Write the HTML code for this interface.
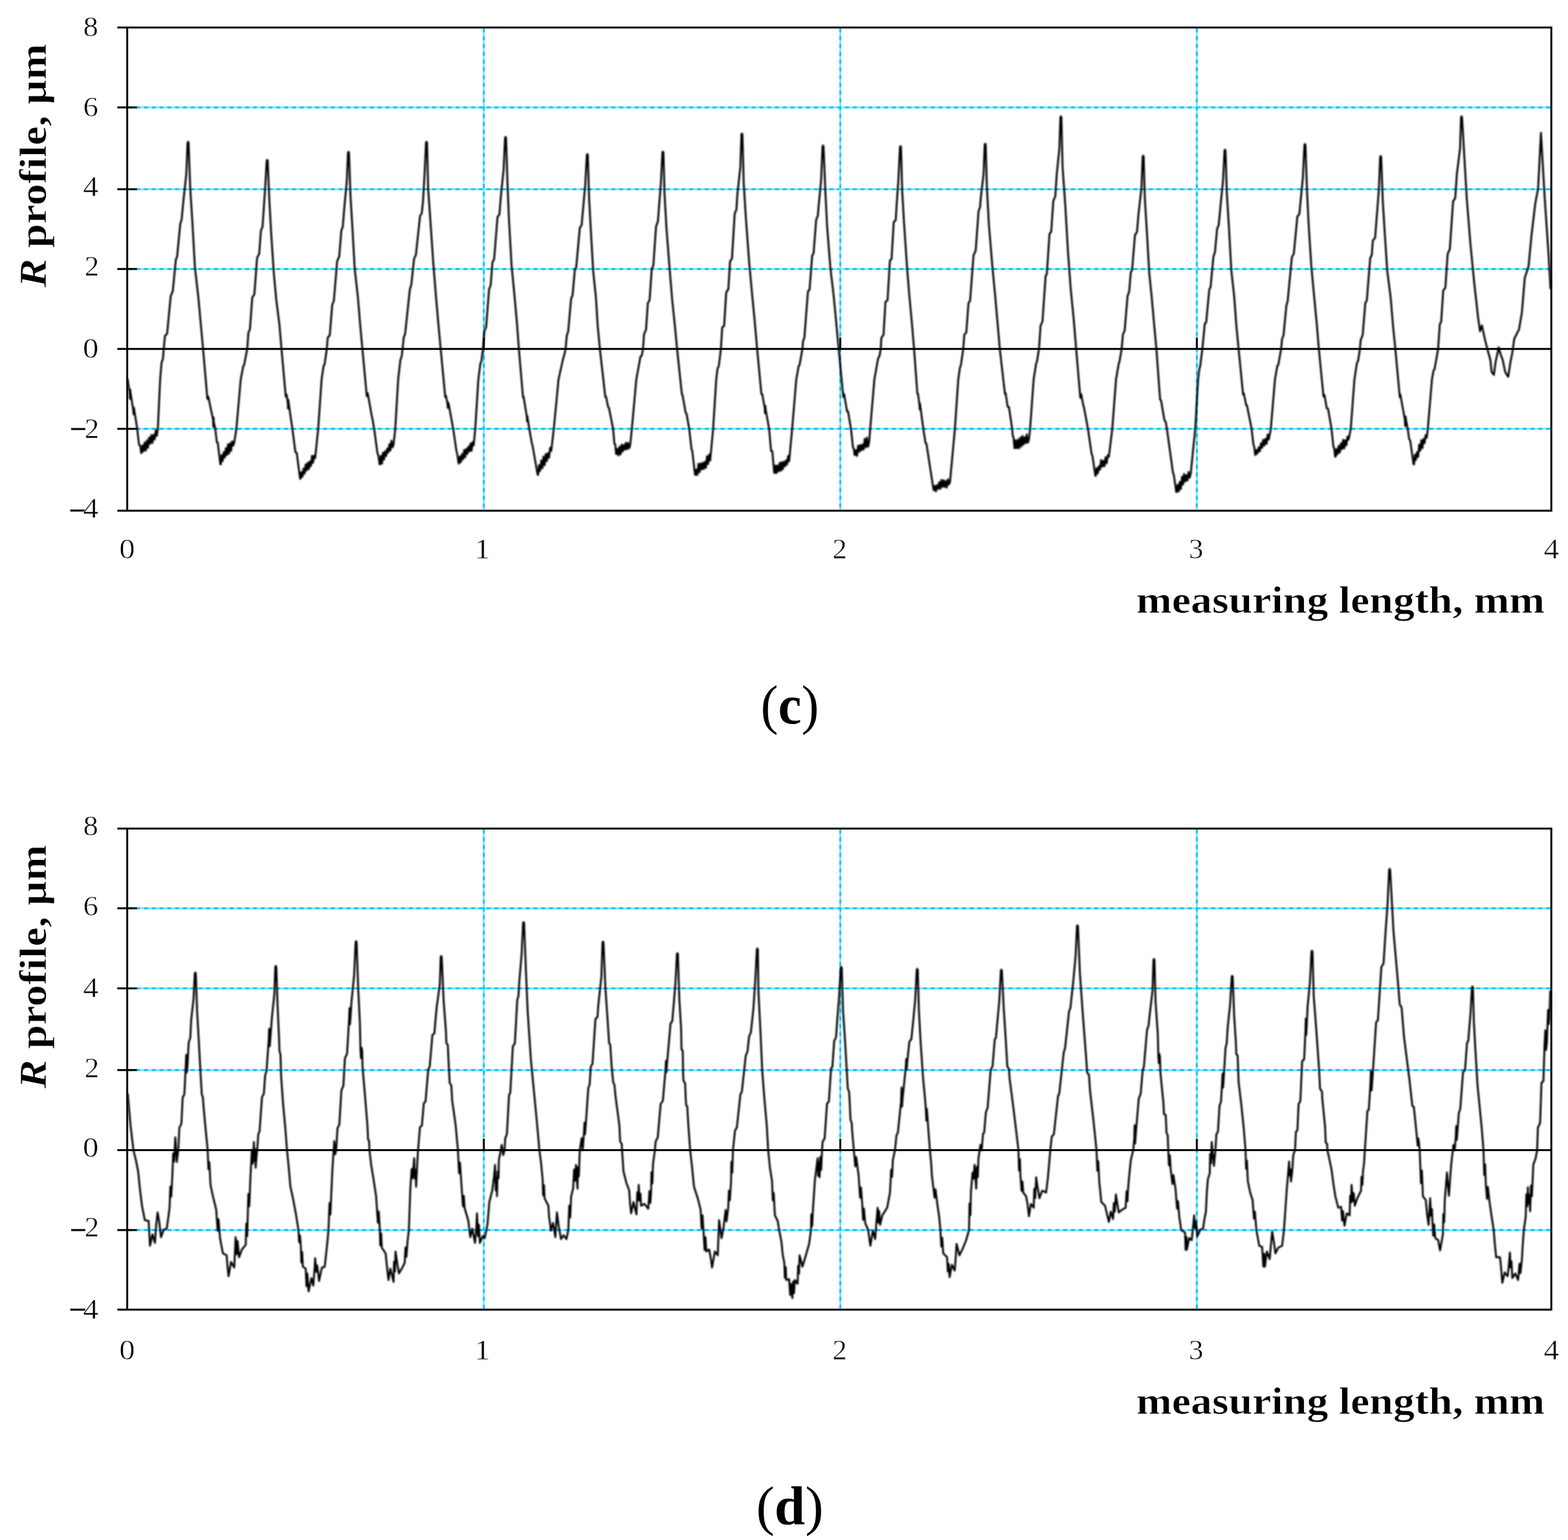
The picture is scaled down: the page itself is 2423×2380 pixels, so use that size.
<!DOCTYPE html>
<html lang="en"><head><meta charset="utf-8"><title>R profile charts (c) and (d)</title>
<style>html,body{margin:0;padding:0;background:#fff;width:2423px;height:2380px}svg{display:block}text{font-family:"Liberation Serif","DejaVu Serif",serif;fill:#000}.tk{font-size:45px;stroke:#fff;stroke-width:.6}.mn{stroke:#000;stroke-width:.9}.ax{font-size:58.5px;font-weight:bold;stroke:#fff;stroke-width:.7}.cap{font-size:85.5px}.fr{stroke:#000;stroke-width:3;fill:none}.gl{stroke:#86e3ff;stroke-width:3;fill:none}.gd{stroke:#00c6ff;stroke-width:3;stroke-dasharray:6.019 6.019;fill:none}.wv{stroke:#000;stroke-width:2.9;fill:none;stroke-linejoin:round;stroke-linecap:butt}</style></head><body>
<svg width="2423" height="2380" viewBox="0 0 2423 2380">
<defs><filter id="soft" x="-2%" y="-5%" width="104%" height="110%"><feGaussianBlur stdDeviation="0.8"/></filter></defs>
<rect width="2423" height="2380" fill="#fff"/>
<g id="chart-c">
<path class="gl" d="M210.6 166H2397.2"/>
<path class="gd" d="M198.4 166H2397.2"/>
<path class="gl" d="M210.6 292.4H2397.2"/>
<path class="gd" d="M198.4 292.4H2397.2"/>
<path class="gl" d="M210.6 415.7H2397.2"/>
<path class="gd" d="M198.4 415.7H2397.2"/>
<path class="gl" d="M210.6 662.7H2397.2"/>
<path class="gd" d="M198.4 662.7H2397.2"/>
<path class="gl" d="M747.6 42.4V789.2"/>
<path class="gd" d="M747.6 44V789.2"/>
<path class="gl" d="M1298.5 42.4V789.2"/>
<path class="gd" d="M1298.5 44V789.2"/>
<path class="gl" d="M1849.4 42.4V789.2"/>
<path class="gd" d="M1849.4 44V789.2"/>
<path class="wv" filter="url(#soft)" d="M197 585 200.3 606 200.8 616.4 201.2 602.2 201.8 607.5 205.8 632.9 206.4 640.2 207 630.3 207.7 635.3 212 662.7 214.8 687.1 216.8 689 218.1 700 218.9 700 220.2 688.3 221.9 697.4 223.6 683.8 225.3 696.3 227 680.7 228.7 692.1 230.4 676.1 232.2 685.7 233.9 672.1 235.6 684.6 237.3 672 239 679.1 240.7 665 242.4 673.5 243.9 662.7 247.5 586.2 249.7 559.9 251.7 555.4 253 539.3 254.9 519.1 258.2 515.8 263.8 457.7 267 449.9 271.7 401.4 273.7 396.7 278.6 345.7 280.6 339.9 283.5 309.6 287.9 268.8 289.8 220.6 290.3 219.1 290.9 219.1 291.4 220.6 294 291.7 297.4 345 301.2 413.4 306.4 458.5 310.4 502.2 313.8 539.3 320.5 616.6 321.8 612.9 329.3 648.8 329.7 659.6 330 645 330.4 652.2 332.6 662.7 335.1 683.6 336.5 684.2 340.5 717.6 341.3 717.6 342.5 703.1 344.1 712.6 345.8 698.8 347.4 707 349 692.8 350.6 703.2 352.3 686.8 353.9 701.2 355.5 684.9 357.1 696.8 358.8 681.9 360.4 688.6 362 683.8 365.3 662.7 372 586.2 375.9 566 377.2 564.2 382 539.3 383.9 513.9 386.2 509.1 389.8 459.8 393.1 454.7 397.3 398.4 400.5 392.5 403.2 356.4 405.6 350.8 407.3 327.2 409.7 291.1 412.1 248.6 412.6 247.1 413.2 247.1 413.7 248.6 416.3 311.5 418.9 358.1 423.2 422.9 427 464 431.8 501.6 435 539.3 441.6 613 442.9 609.8 444.6 621.4 445.1 631.4 445.6 617.9 446.3 624.4 451.8 662.7 456.5 698.8 458.5 699.8 463.7 739.7 464.5 739.7 465.7 729.6 467.4 736.9 469 724.3 470.6 732 472.3 717.6 473.9 727.3 475.6 714.9 477.2 725.1 478.8 713.3 480.5 720.3 482.1 704.4 483.7 715.4 485.4 704.3 487 708 491.7 662.7 497 586.2 500.1 565.3 501.5 563.5 505 539.3 506.4 522 509.6 518 513.4 470.9 515.9 465 521 403.6 524.2 396.3 527.5 355.8 529.6 351.1 532.4 317.4 535.9 280.2 537.7 236.2 538.2 234.7 538.8 234.7 539.3 236.2 541.6 302.6 544.6 352.6 548.2 416.2 553 458.7 556.6 502.2 560 539.3 566.8 612.4 568.3 607.7 574.7 644.2 575.7 648 578.2 662.7 583.3 700.5 584.8 704.3 586.6 717.6 587.4 717.6 588.6 704.4 590.3 716.6 591.9 699.4 593.5 710.2 595.2 697.2 596.8 704.8 598.4 693.2 600 699.4 601.7 686.5 603.3 696.2 604.9 681 606.6 691.3 608.2 686.8 610.8 662.7 615.3 586.2 618.8 555.7 620.7 551 622 539.3 624 520.8 626 516.3 633.3 447.5 635.6 439.8 639.9 399.6 642.7 393.9 649.1 333.8 651.7 329.8 653.6 312.2 656 270.3 658.3 220.6 658.8 219.1 659.4 219.1 659.9 220.6 661.6 291.3 665.4 345.8 669.7 408.3 673.7 458.2 677.3 499.5 681 539.3 688 613.6 689.1 611.4 691.5 624.3 692 630.3 692.6 621.9 693.3 624.3 700.3 662.7 705.4 697.3 706.5 701.2 708.7 716.2 709.5 716.2 710.7 705.3 712.4 714 714 701.8 715.6 709.8 717.3 695.4 718.9 706.8 720.5 693.6 722.2 701.5 723.8 690.2 725.5 697.7 727.1 685.2 728.7 696.9 730.4 683.2 732 688.2 734.4 662.7 739.2 586.2 742.4 561.4 743.8 558.9 746.3 539.3 748.6 510.9 751.1 506.4 755.8 446.9 758.2 440.8 761 405.2 763.6 400.5 768.8 335.1 771.7 331.6 774.1 302 778.3 261.4 780.4 213.3 780.9 211.8 781.5 211.8 782 213.3 784.3 285.6 786.5 339.3 790.5 410.2 795 456.5 799 501 801.8 539.3 808.2 614 809.1 612.7 814.2 645 814.5 651.1 814.8 642.7 815.2 645.6 817.9 662.7 821.7 684.3 822.8 687.9 830.8 733.8 831.6 733.8 832.9 718.9 834.6 727.9 836.4 711.8 838.1 723.7 839.8 705.7 841.5 719.1 843.2 701.8 844.9 712.9 846.6 700.3 848.4 707.6 850.1 691.9 851.8 697 855.8 662.7 863.1 586.2 870.2 554.3 871.5 550.3 874 539.3 875.8 518.8 878 512.3 882.6 461.2 884.7 456.9 888.3 416.9 890.5 412.7 896 352 898.8 347.7 901 323.1 904.4 284.9 906.8 239.7 907.3 238.2 907.9 238.2 908.4 239.7 910.3 306 913 355.7 916.7 419.7 920.8 458.9 923.7 504.7 927 539.3 935.4 613.5 936.6 613.3 939.8 629.3 941 630.4 947.4 662.7 949.4 685.7 950.7 686.6 952 701.5 952.8 701.5 954 693.7 955.7 703.8 957.3 690.4 959 702.2 960.6 687.1 962.3 697.7 963.9 687.7 965.6 694.8 967.2 684.1 968.9 694.6 970.5 684.5 972.2 692.8 973.8 688 976.4 662.7 983.3 586.2 989.7 551.1 991.7 549.5 993.6 539.3 995.2 516.5 998.3 509.4 1001.1 468.3 1003.8 463.9 1007.1 416.4 1009.6 410 1013.8 349.9 1016.7 342.1 1018 324.2 1021.2 283.8 1023.6 235.9 1024.1 234.4 1024.7 234.4 1025.2 235.9 1026.9 300 1030 354.5 1035.1 419.7 1038.6 462.2 1042.8 502.3 1046.3 539.3 1053.7 609.3 1054.6 609.9 1059.6 637.9 1060.9 639.3 1065 662.7 1068.7 695.1 1069.7 696.4 1074 733.8 1074.8 733.8 1076 725.7 1077.7 734 1079.3 716.7 1081 729.8 1082.6 716.3 1084.3 725.5 1085.9 715.2 1087.5 724.9 1089.2 713.6 1090.8 723.1 1092.5 705.3 1094.1 717.2 1095.8 702.5 1097.4 711.8 1102 662.7 1106.8 586.2 1108.8 569.7 1110.8 565.6 1114 539.3 1116 506.2 1119 503.6 1122.2 451.9 1125.5 446.9 1128.2 403.7 1131.1 399.6 1135.3 330.1 1138 323.8 1139.4 300.8 1144 258.3 1145.7 208 1146.2 206.5 1146.8 206.5 1147.3 208 1149.2 282.3 1152.5 335.3 1157.8 406.8 1162.1 453.7 1166.4 498.2 1170 539.3 1176.6 609.1 1177.9 609.1 1181.7 630.4 1182.2 638.8 1182.7 627.5 1183.3 633.4 1188.5 662.7 1191.5 696.9 1193.4 697.1 1196.4 730.9 1197.2 730.9 1198.4 719.4 1200 731 1201.6 719.4 1203.3 728.4 1204.9 715.3 1206.5 727.5 1208.1 714.1 1209.7 725.4 1211.3 713.5 1212.9 720.8 1214.6 711.4 1216.2 718 1217.8 704.6 1219.4 713 1224.1 662.7 1230.5 586.2 1234.2 565.7 1235.5 564 1240 539.3 1240.9 527.3 1243 521.9 1248.5 450.5 1251 447.3 1255.1 394.9 1257.2 391.4 1261.2 339.8 1263.8 333.2 1264.8 320.8 1268.9 277.7 1271 226.5 1271.5 225 1272.1 225 1272.6 226.5 1275.4 295.3 1278.1 349.7 1283.2 414.2 1288 454.6 1292.6 502.6 1296 539.3 1303.2 613.6 1304.4 609.1 1308.9 635.8 1310.5 636 1315 662.7 1318.1 691.5 1319.5 693.8 1320.5 703 1321.3 703 1322.6 695.6 1324.3 704.5 1326 688.8 1327.7 698.2 1329.4 687.6 1331.1 696.1 1332.8 686.9 1334.5 694.8 1336.2 678.3 1337.9 691.4 1339.6 676.3 1341.3 690.5 1343 684 1344.7 662.7 1351.2 586.2 1356.9 554.1 1359 550.6 1361 539.3 1362 522.1 1365.3 517.2 1368.3 466.7 1371.5 464 1375.2 402.6 1377.7 400.3 1381.1 342.8 1384.1 340.3 1385.3 320.3 1388.3 277.8 1390.7 227.4 1391.2 225.9 1391.8 225.9 1392.3 227.4 1394.2 296.4 1397.1 346.2 1401.8 415.3 1405.2 457 1409.4 502.3 1412.5 539.3 1417.6 608.4 1418.6 608.7 1420.9 625.9 1421.3 632.8 1421.6 623.4 1422.1 627.7 1426.8 662.7 1430.2 684.8 1431.6 685.5 1442.6 757.4 1443.4 757.4 1444.7 750.8 1446.3 759.4 1448 749.6 1449.7 755.6 1451.3 745.1 1453 755.6 1454.7 741.7 1456.3 752.5 1458 742.3 1459.7 752.5 1461.3 743.5 1463 753.5 1464.7 740.8 1466.3 748.5 1468 745 1475.6 662.7 1480.8 586.2 1483.4 568.2 1484.8 564.7 1488.5 539.3 1490.1 517.4 1493.2 513.9 1496.6 468.3 1499.1 464.7 1504.4 394.3 1507.7 387.4 1512.2 326 1514.5 320.2 1515.4 307.5 1519.9 269.1 1521.6 223.6 1522.1 222.1 1522.7 222.1 1523.2 223.6 1525 289.1 1528.1 346.7 1533.4 410.6 1537.8 456.7 1541.9 503.7 1545 539.3 1552.9 608.7 1554 607.6 1557.1 628.6 1559.1 629 1564.1 662.7 1565.1 674.2 1566.2 675.8 1567.6 692.6 1568.4 692.6 1569.7 680.4 1571.4 692.7 1573.1 679.2 1574.8 692.8 1576.5 676.4 1578.2 690 1579.8 673.8 1581.5 687.3 1583.2 675.6 1584.9 684.9 1586.6 671.2 1588.3 684.3 1590 679 1591.8 662.7 1597.3 586.2 1601.1 562.1 1602.5 558.3 1605.5 539.3 1608 503.1 1610.9 497 1615.8 426.3 1617.6 423.7 1621.8 361.5 1624.4 358.1 1627.7 310.4 1630.7 303.3 1632.9 270.3 1637 229.7 1638.6 181.5 1639.1 180 1639.7 180 1640.2 181.5 1642 258.4 1646.2 317.8 1650.6 393.2 1654.6 446.8 1659.2 493.5 1663 539.3 1669.4 614.8 1670.7 608.9 1673.9 626 1675.1 629.9 1681.2 662.7 1686.8 701.5 1688.2 704.6 1692.6 735.3 1693.4 735.3 1694.7 723.5 1696.4 731.5 1698.1 720.4 1699.8 725.9 1701.5 711 1703.2 721.3 1705 712.1 1706.7 720.6 1708.4 706.6 1710.1 716.1 1711.8 703.4 1713.5 706 1718.8 662.7 1724.6 586.2 1728.7 562.2 1730.1 557.8 1733.3 539.3 1735.2 516.8 1737.9 511.2 1742.4 457.4 1744.9 450.5 1747.4 420.7 1749.4 417.5 1753.8 363.6 1757 358.3 1759.3 330.8 1763.9 290.2 1765.7 242.1 1766.2 240.6 1766.8 240.6 1767.3 242.1 1769.1 307.2 1772.1 355.4 1776 422.8 1779.9 461.2 1783.5 501.8 1787 539.3 1792.7 617.6 1794.1 618.6 1799.4 649.5 1801.4 651.9 1803.2 662.7 1812.6 730.8 1814 734.6 1817.6 760.3 1818.4 760.3 1819.7 749.3 1821.4 759.6 1823.1 744.7 1824.8 755.9 1826.5 736.7 1828.2 748.7 1829.8 732.5 1831.5 744.3 1833.2 734.5 1834.9 742.8 1836.6 729.5 1838.3 738.3 1840 732 1847 662.7 1851.4 586.2 1853.4 570.1 1854.6 566.1 1858 539.3 1861.7 500.5 1863.9 498 1868.7 447.3 1870.6 444.3 1875.1 396.6 1877.4 390.1 1880.8 353.7 1883.3 347.5 1886 318.5 1889.9 279.4 1892.2 233 1892.7 231.5 1893.3 231.5 1893.8 233 1895.8 298.4 1899 350.3 1902.8 418.5 1907.2 458.1 1910.6 504.2 1914 539.3 1920.9 609.7 1922.1 608 1925.7 626.2 1926.9 626.4 1934.1 662.7 1936.8 686.7 1938.2 690.6 1939.6 703 1940.4 703 1941.7 695.5 1943.4 700.5 1945.2 691.1 1946.9 697.4 1948.6 684.9 1950.3 692.1 1952 679.8 1953.7 688.7 1955.4 678.1 1957.2 686 1958.9 671.4 1960.6 679.4 1963.8 662.7 1970.2 586.2 1973.9 565.1 1975.3 564 1979.7 539.3 1981.2 523.5 1983.4 518.4 1987.8 472.4 1989.8 465.4 1996.3 397.4 1999.3 392.1 2004.8 334.7 2007.8 331 2009.2 317 2013.3 274.5 2015.7 224.1 2016.2 222.6 2016.8 222.6 2017.3 224.1 2019.6 292.9 2022.2 346.2 2026.3 410.7 2030.9 459.9 2034.8 500.7 2038 539.3 2045.2 612.9 2046.7 610.5 2050.2 631 2052.2 631.6 2057.6 662.7 2060.4 689.9 2061.8 693.3 2063.1 705.9 2063.9 705.9 2065.2 694 2066.9 702.1 2068.6 689.1 2070.3 699.6 2072 685.3 2073.8 694.3 2075.5 679.7 2077.2 693 2078.9 680.1 2080.6 688.2 2082.3 674.6 2084 679.4 2087.3 662.7 2093 586.2 2096.7 561.8 2098.8 556.9 2101.5 539.3 2102.6 525.6 2105.7 518 2109.8 468.3 2112.1 464.4 2117.4 398.8 2119.7 394.5 2121.5 371.4 2124.9 367.7 2127.6 333.5 2130.8 291.9 2132.7 242.7 2133.2 241.2 2133.8 241.2 2134.3 242.7 2136.7 308.8 2139.8 359.4 2143.7 418.8 2148.9 459.2 2152.6 503.4 2156.2 539.3 2163.1 613.8 2163.9 609.7 2170.8 647.8 2171.4 658.7 2172 643.6 2172.7 648.4 2175.3 662.7 2177.5 678.4 2179.2 681 2184.3 717.6 2185.1 717.6 2186.4 702.7 2188 710.9 2189.7 698.7 2191.4 706.4 2193 687.1 2194.7 696.6 2196.4 680.2 2198 692.5 2199.7 678.3 2201.4 684.9 2203 672.5 2204.7 676.5 2206.4 662.7 2212.8 586.2 2215.2 572.5 2216.7 571 2222.3 539.3 2224.9 501 2227 497.6 2230.2 448.9 2233.5 444.7 2237 392.6 2240.4 384.9 2245.4 311.3 2248.7 306.4 2251.2 269.8 2256.2 229.4 2257.7 181.5 2258.2 180 2258.8 180 2259.3 181.5 2266.5 306 2272.4 379 2278.2 438 2284.1 491 2287 512 2290 503 2294.4 523.5 2298.8 541 2303 556 2305 575 2308.5 579.4 2311 560 2315.9 536.8 2319 548 2322 556 2326 575 2330.6 582.4 2334 560 2337 545 2340 523.5 2347.4 508.8 2351.8 482.4 2356.2 429.4 2362 411.8 2366.5 364.7 2372.4 314.7 2376.8 291.2 2381.2 205.3 2387 306 2393 394 2396 447"/>
<path class="fr" d="M181.3 42.4H2398.7 M181.3 789.2H2398.7 M196.6 42.4V789.2 M2397.2 42.4V789.2 M181.3 539.3H2397.2 M181.3 166H211.6 M181.3 292.4H211.6 M181.3 415.7H211.6 M181.3 662.7H211.6 M747.6 521.8V539.3 M1298.5 521.8V539.3 M1849.4 521.8V539.3"/>
<text class="tk" transform="translate(152 55.9) scale(1.04 1)" text-anchor="end">8</text>
<text class="tk" transform="translate(152 179.6) scale(1.04 1)" text-anchor="end">6</text>
<text class="tk" transform="translate(152 302.9) scale(1.06 1)" text-anchor="end">4</text>
<text class="tk" transform="translate(153.2 426.4) scale(1.0 1)" text-anchor="end">2</text>
<text class="tk" transform="translate(152.4 552.7) scale(1.08 1)" text-anchor="end">0</text>
<text class="tk" transform="translate(153.2 676.5) scale(1.0 1)" text-anchor="end"><tspan class="mn" x="-19.6" y="1.2">−</tspan><tspan x="0" y="0">2</tspan></text>
<text class="tk" transform="translate(152 799.7) scale(1.06 1)" text-anchor="end"><tspan class="mn" x="-17.4" y="4.5">−</tspan><tspan x="0" y="0">4</tspan></text>
<text class="tk" transform="translate(196.5 862.9) scale(1.08 1)" text-anchor="middle">0</text>
<text class="tk" transform="translate(745.4 862.9) scale(1.1 1)" text-anchor="middle">1</text>
<text class="tk" transform="translate(1297.5 862.9) scale(1.0 1)" text-anchor="middle">2</text>
<text class="tk" transform="translate(1848.2 862.9) scale(1.0 1)" text-anchor="middle">3</text>
<text class="tk" transform="translate(2397.5 862.9) scale(1.06 1)" text-anchor="middle">4</text>
<text class="ax" transform="translate(1756 947.4) scale(1.126 1)">measuring length, mm</text>
<text class="ax" transform="translate(71.4 444.2) rotate(-90) scale(1.141 1)"><tspan font-style="italic">R</tspan> profile, µm</text>
<text class="cap" transform="translate(1220.5 1118.4) scale(0.947 1)" text-anchor="middle">(<tspan font-weight="bold">c</tspan>)</text>
</g>
<g id="chart-d">
<path class="gl" d="M210.6 1403.8H2397.2"/>
<path class="gd" d="M198.4 1403.8H2397.2"/>
<path class="gl" d="M210.6 1527.4H2397.2"/>
<path class="gd" d="M198.4 1527.4H2397.2"/>
<path class="gl" d="M210.6 1653.8H2397.2"/>
<path class="gd" d="M198.4 1653.8H2397.2"/>
<path class="gl" d="M210.6 1900.9H2397.2"/>
<path class="gd" d="M198.4 1900.9H2397.2"/>
<path class="gl" d="M747.6 1280.4V2024.1"/>
<path class="gd" d="M747.6 1282V2024.1"/>
<path class="gl" d="M1298.5 1280.4V2024.1"/>
<path class="gd" d="M1298.5 1282V2024.1"/>
<path class="gl" d="M1849.4 1280.4V2024.1"/>
<path class="gd" d="M1849.4 1282V2024.1"/>
<path class="wv" filter="url(#soft)" d="M197.4 1690 201.8 1740 206.2 1777.4 210.1 1793.5 213.5 1810.6 216.2 1837.2 219.4 1863.5 223.8 1885.6 229.7 1887 231.8 1925.3 235.6 1907.6 239.4 1920.9 241.2 1894.9 243.5 1873.8 245.9 1887 248.8 1912 253.2 1900.3 257.6 1898.8 260.3 1880.2 262 1866.5 263.2 1833.9 264.6 1849.4 266.5 1813.5 267.6 1782.8 269 1795.1 270.9 1757.6 273.2 1795.9 275.5 1777.4 277.2 1742.7 280.3 1736.8 282.3 1696.1 284.9 1691.3 286.9 1650.1 287.8 1630.3 288.7 1657.3 289.8 1646.4 291.5 1611.6 294.1 1603.6 295.4 1576.7 299.1 1543.6 301 1504.7 301.5 1503.2 302.1 1503.2 302.6 1504.7 304.6 1562.8 307.4 1612.2 310.3 1666 311.9 1692.1 313.5 1695.3 314.4 1709 317.6 1743.5 320.9 1777.4 322.1 1806.9 323.5 1796.2 325.3 1831.2 328.7 1847.3 334.1 1869.4 336.3 1902.1 337.7 1884.3 340 1913.5 344.4 1937 350.3 1940 351.2 1953.3 353.2 1972.4 357 1950.3 362 1959 364.1 1912 365.7 1938.5 367.1 1918 369.4 1943 373.8 1931.2 379.7 1923.8 380.6 1891 382 1910.5 382.6 1887 383.8 1845.1 385.2 1864.3 387 1819.4 389.2 1777.7 390.6 1798.4 392.4 1765 392.9 1794 394.3 1775.7 395 1804.7 397.4 1777.4 399.2 1752.7 401.1 1748.4 404.9 1695.3 407.7 1690.6 409.7 1662.4 411.9 1654.7 415.1 1609.7 415.9 1589.9 416.8 1616.8 417.8 1604.8 420.1 1573.1 423.9 1537 425.4 1494.4 425.9 1492.9 426.5 1492.9 427 1494.4 428.9 1553.7 431.3 1606.1 431.9 1624.6 433.4 1629.4 434.4 1663.1 437.4 1705.4 440.7 1741.3 443.5 1777.4 446.1 1803.4 448.8 1834.1 452.6 1851.3 457.6 1878.2 461.2 1900.9 462.2 1919.7 463.6 1909.4 465 1928.2 465.6 1951 467 1935 468 1957.6 472.4 1960.6 473.6 1987.9 475 1968.3 476.8 1995.9 481.2 1975.3 484.1 1987 486 1962.1 487 1944.4 488.9 1965.6 490.3 1955.8 493 1979.7 497.4 1959.1 501.8 1957.6 504.7 1930.8 506.2 1916.5 507.6 1900.9 509.2 1859.3 510.6 1877 512 1843 513.7 1806.4 516.5 1763.5 518 1784 519.5 1777.4 521.5 1743.9 524.4 1737.8 527.5 1685.3 530.6 1677.9 533 1635.6 536.3 1628.4 539.4 1576.4 540.1 1558 540.8 1583 541.7 1571.9 543 1550.2 547.2 1507.2 549.5 1456.2 550 1454.7 550.6 1454.7 551.1 1456.2 553.5 1528 556.1 1579.9 557.1 1623.7 557.9 1635.4 558.7 1619.3 559.7 1624.2 560.2 1648.8 563.9 1691.9 567.8 1739.4 568.8 1761.3 570.3 1762.8 570.9 1777.4 573.8 1801.8 577.1 1821.8 581.2 1848.8 583.9 1889.6 585.3 1872.5 587 1900.9 587.6 1924.5 589 1905.9 590 1928.2 595.9 1937 598.4 1961.5 600.3 1978.2 603.2 1960.6 608.2 1981.2 608.9 1949.9 610.3 1965.1 611.2 1934.1 614.4 1956 616.5 1968 620.9 1960.6 625.3 1951.8 626.6 1927.9 628 1942.5 629.7 1919.4 631.8 1900.9 634.1 1837 636.1 1806.7 637.5 1821 640 1790 640.9 1821.4 642.3 1808.2 643 1834.1 644.7 1799.4 646 1777.4 649 1741.9 651.9 1739.8 654.9 1705.1 657.6 1702.3 661.7 1653.2 664 1648.4 668.2 1599.3 671.2 1597.1 674.6 1558 679.6 1521.8 681 1479.1 681.5 1477.6 682.1 1477.6 682.6 1479.1 685.5 1546.3 689 1592.7 689.8 1611.7 692 1615.3 693.9 1655.6 694.9 1673.7 697.4 1677.5 698.7 1700.6 704.1 1738.9 707.6 1777.4 709.4 1813.2 710.8 1796.6 713.5 1837 715.4 1864.2 716.8 1848.2 717.9 1866.5 723.8 1887 725.3 1900.9 726.8 1912 729.7 1898.8 734.1 1920.9 736.2 1894.4 737.1 1875.3 738.7 1910.5 740.1 1892.8 741.5 1920.9 745.9 1910.6 749 1913.5 753.2 1893 755.1 1871.3 756.2 1857.6 760.6 1840 763.5 1817.2 765 1800.3 766 1839.7 767.4 1819.9 768 1848.8 769 1810.4 770.4 1820.9 770.9 1793 775.3 1769.4 777.5 1785 779.7 1777.4 780.7 1759.4 783.3 1752.7 786.6 1692.3 788.5 1689.2 792.5 1616.8 795.6 1612.7 799.3 1545.7 801.2 1539 802.5 1516.4 806 1475.4 808.3 1426.8 808.8 1425.3 809.4 1425.3 809.9 1426.8 812.7 1500.3 815.4 1562.8 820.4 1637.9 825.2 1687.9 829.7 1734.4 833.5 1777.4 836.1 1797.4 838.5 1822.4 839.3 1847.3 840.7 1831.7 841.5 1851.8 847.4 1863.5 848.5 1881.1 850.3 1893 851.2 1901.8 854.7 1890 858.2 1912 860.6 1873.8 863.5 1895.9 867 1915 870.9 1909 875.3 1915 878.2 1900.9 879.7 1863.1 881.1 1881.6 882.6 1848.8 885.6 1837 887.2 1807.4 888.6 1824.7 890 1800.3 892.4 1837 893.1 1803.7 894.5 1818 895.9 1778 898.8 1759 900.5 1777.4 902.5 1748.5 903.2 1734.9 904 1753 905 1741.1 909.1 1681.3 911.1 1676.5 913 1648.2 915.5 1644.3 920.2 1574.7 923.3 1571.6 924.5 1554 929.3 1509.6 931 1456.8 931.5 1455.3 932.1 1455.3 932.6 1456.8 935.5 1526.9 939.3 1582.3 941.2 1611.9 943 1614.5 945.2 1648.6 947.6 1672.9 949.4 1676.1 951.1 1693.8 957.1 1739.4 958.3 1764 960.8 1768.1 961.2 1777.4 963.5 1810.6 968 1828.2 972.4 1840 973.5 1859.3 975.3 1875.3 978.8 1857.6 983.5 1876.8 984.8 1842.8 986.2 1855.1 987 1831.2 988.3 1855.5 989.7 1844.8 990.6 1863.5 995.9 1860.6 1001.8 1868 1003.6 1840.6 1005 1859.1 1006.2 1840 1006.7 1811.7 1008.1 1829 1009.1 1798.8 1012 1777.4 1013.1 1764.3 1016.4 1757.7 1020.9 1706.2 1024.3 1701.2 1028.5 1652.7 1029.1 1639.5 1029.8 1657.1 1030.5 1646.6 1036.2 1581.5 1038.8 1578.4 1040.9 1554.6 1043.8 1518 1046 1474.7 1046.5 1473.2 1047.1 1473.2 1047.6 1474.7 1049.7 1543.1 1052.5 1589.4 1053.1 1621.9 1055 1623.5 1055.6 1658.4 1056.1 1670.1 1058.7 1674.3 1059.7 1698.9 1060.3 1707.8 1062 1710.4 1063.8 1740.3 1066.5 1777.4 1069.8 1807.4 1072.4 1834 1078.2 1851.8 1082.6 1869.4 1084.2 1898.7 1085.6 1878.1 1087 1900.9 1088.8 1931.8 1090.2 1912 1091.5 1934 1095.9 1931 1098.6 1945.9 1100.3 1959.1 1104.7 1934 1109.1 1940 1111.2 1885.6 1113.6 1903.4 1115 1913.5 1117.9 1898.8 1121.3 1869.9 1122.7 1887.6 1125.3 1866.5 1126.4 1840.2 1127.8 1855 1129.7 1825.3 1130.2 1795.6 1131.6 1812.3 1132.6 1777.4 1135.8 1747.4 1138.7 1742.2 1144.1 1691.5 1146.4 1687.2 1152.3 1632.2 1155.2 1624.2 1157.6 1601.5 1160.3 1595.6 1164.3 1558 1167 1516.6 1169.5 1467.4 1170 1465.9 1170.6 1465.9 1171.1 1467.4 1172 1532.6 1174.7 1585 1177.9 1655.2 1181.3 1699.2 1185 1740.8 1187 1777.4 1189.8 1804.9 1193 1825.3 1194.2 1855.3 1195.6 1843.8 1197.4 1878.2 1201.8 1887 1204 1900.9 1207.6 1919.4 1209.4 1938.2 1212 1951.8 1212.8 1974.8 1214.2 1958.5 1215 1978.2 1219.4 1976.8 1221.1 2001.3 1222.5 1984.4 1224.4 2006.2 1225.6 1980.8 1227 1998.5 1228.2 1978.2 1232.6 1984 1233.3 1956.1 1234.7 1968.4 1235.6 1940 1240 1957.6 1244.4 1943 1250.3 1922.4 1253.2 1900.9 1253.7 1876.7 1255.1 1894.8 1256.2 1869.4 1257.8 1845.6 1259.1 1825.3 1261.4 1806.6 1263.5 1790 1264.3 1817.1 1265.7 1796.6 1266.5 1819.4 1267.5 1788 1268.9 1808.1 1270.3 1777.4 1271.2 1764.2 1274.3 1759.4 1278 1705.7 1280.8 1702.4 1284.3 1651 1286.3 1648.7 1289.1 1608.5 1291.9 1603.4 1293.6 1579.4 1296.6 1541.1 1299.2 1495.9 1299.7 1494.4 1300.3 1494.4 1300.8 1495.9 1302.6 1559.6 1305.7 1606.2 1308.9 1661.9 1310.1 1682.9 1312 1686.4 1313.1 1704.6 1314.3 1730.6 1316.2 1735.5 1316.6 1745 1319.4 1777.4 1321.7 1802.5 1323.1 1788.1 1326.8 1816.5 1329.1 1851 1330.5 1835.3 1332.6 1863.5 1333.7 1885.2 1335.1 1868 1337 1890 1341.5 1900.9 1345 1925.3 1348.8 1901.8 1352.4 1915 1354.2 1890.1 1356.2 1866.5 1357.2 1889.4 1358.6 1871.5 1360 1893 1363.5 1878.2 1370.9 1866.5 1375.3 1843 1377.1 1807.8 1378.5 1818.7 1379.7 1793 1383 1777.4 1385.3 1754.6 1387.5 1750.4 1392.4 1702.4 1393.1 1680.6 1393.9 1710.2 1394.9 1696.5 1399.7 1649.1 1400.4 1636.7 1401.1 1653 1402 1641.2 1405.2 1609.9 1408.3 1606 1410.7 1582.6 1414.3 1544.3 1416.6 1498.9 1417.1 1497.4 1417.7 1497.4 1418.2 1498.9 1419.9 1560.1 1422.5 1608.3 1426.2 1663.7 1429.9 1703.4 1430.9 1718.5 1431.5 1731.9 1432.2 1713.7 1432.9 1722.1 1434.3 1742.5 1437 1777.4 1439.1 1799.9 1440 1816.5 1444.2 1851.1 1445.6 1837.9 1448.8 1863.5 1451.2 1879.9 1453.2 1900.9 1454.6 1926.5 1456 1912.8 1457.6 1937 1463.5 1943 1464.7 1965.1 1466.1 1953.3 1467.4 1973.8 1470.9 1954.7 1475.3 1963.5 1476.8 1944.4 1478.2 1922.4 1482.6 1940 1487 1931.2 1493 1916.5 1497.4 1900.9 1498.2 1859.9 1499.6 1878 1500.3 1843 1502.9 1812.1 1504.3 1821.9 1506 1800 1508.5 1837 1509.6 1803.4 1511 1819.3 1512 1790 1515 1769.4 1517 1777.4 1519 1752.5 1520.9 1750 1523.5 1718.7 1526.1 1712.3 1530.8 1654.4 1533.9 1647 1537.2 1606.1 1539.1 1603.6 1540.6 1585.6 1544.2 1546.6 1546.6 1500.3 1547.1 1498.8 1547.7 1498.8 1548.2 1500.3 1551.1 1559.5 1554.4 1610.3 1556.6 1648.4 1559.2 1652 1560 1665.9 1565.2 1706 1570.1 1746 1573.8 1777.4 1574.7 1809 1576.1 1791.5 1576.8 1816.5 1578.6 1840.3 1580 1826 1581.2 1843 1585.6 1848.8 1587.9 1861.3 1590 1879.7 1593 1860.6 1597.4 1866.5 1598.3 1837.1 1599.7 1851.5 1601.2 1819.4 1603.1 1833.1 1606.2 1851.8 1610.6 1840 1616.5 1843 1619.4 1819.4 1621.1 1799.7 1623 1777.4 1625.3 1756.4 1628.5 1753.1 1635 1693.7 1636.8 1690.3 1643.8 1626.3 1645.8 1620 1652 1562.9 1654.1 1557.4 1658.6 1515.9 1662.1 1477.4 1664.2 1431.8 1664.7 1430.3 1665.3 1430.3 1665.8 1431.8 1668.8 1505.2 1673.3 1568.2 1678.7 1638.8 1679.9 1657.4 1682.8 1661.4 1684.4 1685.5 1690 1734.4 1694.4 1777.4 1695.7 1809.4 1697.1 1794.5 1698.8 1828.2 1700.4 1842.8 1701.8 1857.6 1707.6 1863.5 1713.5 1888.5 1716.5 1872.4 1720 1884.1 1721.2 1859.4 1722.6 1872.6 1724.4 1845.9 1726.4 1859.3 1728.8 1873.8 1734.1 1869.4 1739.4 1866.5 1740.9 1840.9 1742.3 1856.5 1743 1840 1744.5 1821.7 1747.4 1793 1751.2 1777.4 1752.7 1759.9 1753.3 1739 1754.1 1767.4 1754.9 1755.1 1759.7 1697.9 1762.7 1690.2 1765.7 1654.6 1767.6 1649.1 1772.5 1591.6 1775 1584.5 1776.1 1572.5 1780.9 1531.8 1782.4 1483.6 1782.9 1482.1 1783.5 1482.1 1784 1483.6 1785.7 1549.1 1789 1596.1 1790 1632.5 1790.7 1643.1 1791.5 1628.6 1792.5 1634.3 1793.2 1658.1 1797.7 1703.4 1798.7 1721.9 1801.3 1723.1 1802.1 1739 1802.5 1750.6 1804.5 1754.6 1805.3 1777.4 1806.3 1801 1807.7 1785.4 1809.1 1807.6 1811.8 1829.9 1813.2 1815.9 1816.5 1837 1818.9 1868 1820.3 1856.1 1822.4 1881.2 1825.3 1900.9 1831.2 1904.7 1832.1 1931.8 1833.5 1911.6 1834.1 1931.2 1837.6 1913.5 1841.5 1916.5 1843.3 1898.8 1845.3 1878.2 1846.7 1898.4 1848.1 1887.8 1850.3 1910.6 1854.7 1900.3 1859.1 1898.8 1861.2 1884.1 1863.5 1872.4 1864.9 1842.4 1866.5 1822.4 1869.4 1813.5 1870 1783.7 1871.4 1797.9 1872.4 1765 1873.8 1780.3 1875.9 1801.8 1878.2 1777.4 1879.6 1753.2 1882.1 1748.8 1884.5 1709 1886.8 1702.8 1888.4 1675.3 1889.2 1659.2 1890 1680.7 1890.9 1667.4 1893.8 1619.2 1895.6 1612.5 1897.1 1588.1 1900.9 1552.1 1903.3 1509.7 1903.8 1508.2 1904.4 1508.2 1904.9 1509.7 1907.1 1569.4 1909.8 1611.1 1910.4 1628.7 1912.5 1631.2 1914 1672.1 1918.2 1707.5 1921.9 1743.3 1924.7 1777.4 1925.5 1806.2 1926.9 1793.8 1928.2 1825.3 1931.9 1843 1935.6 1854.7 1937.7 1883.4 1939.1 1872.4 1941.5 1900.9 1945.9 1925.3 1950.3 1926.8 1952.2 1957.4 1953.6 1937.7 1954.7 1957.6 1957.6 1934.1 1962 1945.9 1964 1922.8 1965.9 1903.2 1969.1 1923.5 1970.9 1937 1975.3 1928.2 1981.2 1925.3 1984.1 1900.9 1985.8 1876.2 1988.5 1837 1990.3 1816.3 1992 1795 1992.8 1817 1994.2 1807.1 1995 1826 1996.9 1809.1 1998.5 1785 2001.2 1777.4 2002.5 1749.6 2004.9 1746.4 2006.7 1706.3 2009.4 1701.5 2012.2 1639.9 2015.3 1637.1 2017.3 1592.9 2017.8 1574.1 2018.4 1599.7 2019.1 1588.6 2020.6 1556 2024.3 1517 2026.6 1470.9 2027.1 1469.4 2027.7 1469.4 2028.2 1470.9 2030.1 1539.9 2033.9 1589.3 2038.5 1654.9 2039.8 1682.7 2042.8 1686.9 2043.4 1698.8 2047.6 1740.8 2048.6 1765.8 2050.8 1768 2051.2 1777.4 2054.2 1791.2 2057.6 1807.6 2060.5 1829.6 2063.5 1848.8 2068 1866.5 2072.4 1865 2073.9 1886.3 2075.3 1871.7 2077.6 1894.4 2081.2 1875.3 2085.6 1878.2 2086.4 1848.3 2087.8 1858.5 2088.5 1831.2 2090.5 1856.3 2091.9 1844 2093.5 1863.5 2097.4 1851.8 2103.2 1840 2103.9 1818.8 2105.3 1831 2106.2 1810.6 2107.8 1797.9 2109.1 1777.4 2113 1717.3 2115.2 1714.7 2117.6 1677.3 2118.5 1655 2119.5 1685.2 2120.6 1670.5 2126.5 1579.7 2129.2 1577 2134.6 1494.6 2137.9 1489.3 2141.1 1440.4 2144.2 1396.6 2146.6 1344.5 2147.1 1343 2147.7 1343 2148.2 1344.5 2153.3 1439.1 2159.5 1509.6 2163 1552.3 2165.9 1557.1 2169.6 1602.5 2177.8 1667 2182.5 1709.4 2184.7 1710.2 2186.5 1727.3 2190 1762.3 2190.7 1770.6 2191.5 1759.2 2192.4 1763.3 2193.8 1777.4 2195.8 1828.6 2197.2 1808.9 2198.8 1848.8 2203.2 1854.7 2205.4 1877.9 2207.6 1893 2210 1851.8 2211.4 1879 2212.8 1868.6 2213.5 1887 2214.8 1909.8 2216.2 1892.2 2217.9 1913.5 2222.4 1916.5 2225.3 1932.6 2229.7 1907.6 2230.3 1876.7 2231.7 1889 2232.6 1854.7 2234.3 1832.9 2236 1812 2237.5 1831.6 2239 1848 2240.9 1820.7 2242.5 1800 2243.9 1787.4 2245.9 1769.4 2248 1777.4 2249.6 1756.1 2250.3 1740.2 2251 1761.9 2251.9 1752.4 2254.3 1720.2 2256.5 1713.6 2260.8 1657.1 2263.9 1653.7 2267 1611.7 2269 1608 2269.7 1598.3 2272.4 1565.2 2274.5 1526.2 2275 1524.7 2275.6 1524.7 2276.1 1526.2 2277.5 1578.4 2280 1624.1 2283.2 1677.3 2286.6 1711.7 2290 1747.2 2292.4 1777.4 2293.6 1815.9 2295 1799.5 2295.9 1828.2 2297.8 1852.8 2299.2 1834.5 2301.8 1857.6 2304.7 1878.2 2308.2 1900.9 2310.1 1924.3 2312 1943 2317.9 1943 2319.5 1957.8 2321.5 1982.6 2325.3 1966.5 2329.7 1972.4 2331.6 1955.5 2333.2 1935.6 2334.2 1959 2335.6 1949.2 2337 1975.3 2341.5 1968 2345.9 1978.2 2348.1 1953 2349.5 1967.5 2351.8 1945.9 2352.8 1928 2354.7 1900.9 2357.6 1881.2 2358.6 1845.9 2360 1864.4 2361 1835 2361.9 1859.7 2363.3 1846.7 2364.5 1872 2365.8 1832.2 2367.2 1848.8 2369.4 1800 2373 1790 2375.3 1777.4 2376.5 1742.5 2379.9 1735.6 2382 1673.6 2385 1670.6 2386.8 1614.5 2387.9 1592.2 2389.1 1622.7 2390.4 1611 2391.6 1576.8 2392.3 1560.8 2393.2 1582.7 2394.2 1573.9 2395.6 1531"/>
<path class="fr" d="M181.3 1280.4H2398.7 M181.3 2024.1H2398.7 M196.6 1280.4V2024.1 M2397.2 1280.4V2024.1 M181.3 1777.4H2397.2 M181.3 1403.8H211.6 M181.3 1527.4H211.6 M181.3 1653.8H211.6 M181.3 1900.9H211.6 M747.6 1759.9V1777.4 M1298.5 1759.9V1777.4 M1849.4 1759.9V1777.4"/>
<text class="tk" transform="translate(152 1290.8) scale(1.04 1)" text-anchor="end">8</text>
<text class="tk" transform="translate(152 1414.6) scale(1.04 1)" text-anchor="end">6</text>
<text class="tk" transform="translate(152 1541) scale(1.06 1)" text-anchor="end">4</text>
<text class="tk" transform="translate(153.2 1664.5) scale(1.0 1)" text-anchor="end">2</text>
<text class="tk" transform="translate(152.4 1787.9) scale(1.08 1)" text-anchor="end">0</text>
<text class="tk" transform="translate(153.2 1911.2) scale(1.0 1)" text-anchor="end"><tspan class="mn" x="-19.6" y="4.7">−</tspan><tspan x="0" y="0">2</tspan></text>
<text class="tk" transform="translate(152 2037.7) scale(1.06 1)" text-anchor="end"><tspan class="mn" x="-17.4" y="1.4">−</tspan><tspan x="0" y="0">4</tspan></text>
<text class="tk" transform="translate(196.5 2100.9) scale(1.08 1)" text-anchor="middle">0</text>
<text class="tk" transform="translate(745.4 2100.9) scale(1.1 1)" text-anchor="middle">1</text>
<text class="tk" transform="translate(1297.5 2100.9) scale(1.0 1)" text-anchor="middle">2</text>
<text class="tk" transform="translate(1848.2 2100.9) scale(1.0 1)" text-anchor="middle">3</text>
<text class="tk" transform="translate(2397.5 2100.9) scale(1.06 1)" text-anchor="middle">4</text>
<text class="ax" transform="translate(1756 2185.4) scale(1.126 1)">measuring length, mm</text>
<text class="ax" transform="translate(71.4 1682.2) rotate(-90) scale(1.141 1)"><tspan font-style="italic">R</tspan> profile, µm</text>
<text class="cap" transform="translate(1220.5 2356.4) scale(0.995 1)" text-anchor="middle">(<tspan font-weight="bold">d</tspan>)</text>
</g>
</svg></body></html>
